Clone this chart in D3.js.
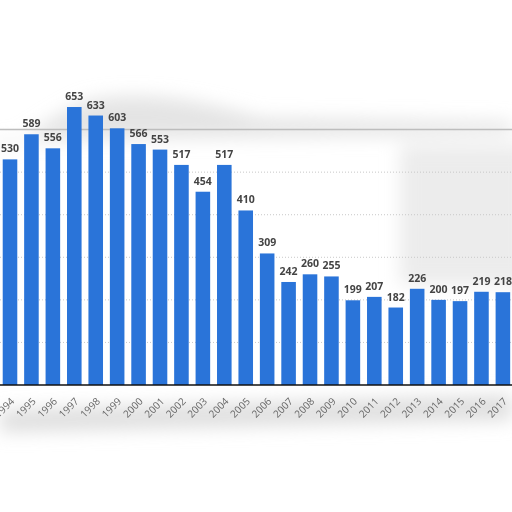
<!DOCTYPE html>
<html>
<head>
<meta charset="utf-8">
<script src="https://cdn.jsdelivr.net/npm/d3@7"></script>
<style>
  body { margin: 0; background: #fff; }
  svg { display: block; }
</style>
</head>
<body>
<div id="chart"></div>
<script>
var svgWidth = 512;
var svgHeight = 512;

// data
var years = ["1994", "1995", "1996", "1997", "1998", "1999", "2000", "2001",
  "2002", "2003", "2004", "2005", "2006", "2007", "2008", "2009",
  "2010", "2011", "2012", "2013", "2014", "2015", "2016", "2017"];
var values = [530, 589, 556, 653, 633, 603, 566, 553,
  517, 454, 517, 410, 309, 242, 260, 255,
  199, 207, 182, 226, 200, 197, 219, 218];
var gridTicks = [100, 200, 300, 400, 500, 600];

var data = years.map(function(y, i) { return { year: y, value: values[i] }; });

var svg = d3.select("#chart")
  .append("svg")
  .attr("width", svgWidth)
  .attr("height", svgHeight);

var defs = svg.append("defs");
defs.append("filter")
  .attr("id", "blur")
  .attr("x", "-30%").attr("y", "-60%")
  .attr("width", "160%").attr("height", "220%")
  .append("feGaussianBlur")
  .attr("stdDeviation", 9);

// scales
var step = 21.43;
var x = d3.scaleBand()
  .domain(years)
  .range([10 - step / 2, 10 - step / 2 + step * years.length])
  .paddingInner(0.32)
  .paddingOuter(0.16);

var y = d3.scaleLinear()
  .domain([0, 700])
  .range([385, 385 - 700 * 0.4257]);

// soft grey smears of the source picture
var smear = svg.append("g").attr("filter", "url(#blur)");
smear.append("path")
  .attr("d", "M0,150 C40,130 60,110 90,100 C140,90 200,100 260,118 L512,122 L512,134 L0,140 Z")
  .attr("fill", "#d8d8d8")
  .attr("opacity", 0.7);
smear.append("rect")
  .attr("x", 400).attr("y", 145)
  .attr("width", 130).attr("height", 140)
  .attr("fill", "#ececec");
smear.append("path")
  .attr("d", "M0,410 L512,395 L512,420 L300,425 L0,432 Z")
  .attr("fill", "#d6d6d6")
  .attr("opacity", 0.8);

// gridlines
svg.append("g")
  .selectAll("line")
  .data(gridTicks)
  .enter()
  .append("line")
  .attr("x1", 0)
  .attr("x2", svgWidth)
  .attr("y1", d => y(d))
  .attr("y2", d => y(d))
  .attr("stroke", d => d === 600 ? "#bdbdbd" : "#c8c8c8")
  .attr("stroke-width", d => d === 600 ? 1.5 : 1)
  .attr("stroke-dasharray", d => d === 600 ? null : "1,2");

// bars
svg.append("g")
  .selectAll("rect")
  .data(data)
  .enter()
  .append("rect")
  .attr("x", d => x(d.year))
  .attr("y", d => y(d.value))
  .attr("width", x.bandwidth())
  .attr("height", d => y(0) - y(d.value))
  .attr("fill", "#2a74d9");

// value labels
svg.append("g")
  .selectAll("text")
  .data(data)
  .enter()
  .append("text")
  .attr("x", d => x(d.year) + x.bandwidth() / 2)
  .attr("y", d => y(d.value) - 7)
  .attr("text-anchor", "middle")
  .attr("font-family", "Open Sans")
  .attr("font-weight", "bold")
  .attr("font-size", "10.5px")
  .attr("fill", "#444")
  .text(d => d.value);

// x axis
var xAxis = svg.append("g")
  .attr("transform", `translate(0, ${y(0)})`)
  .call(d3.axisBottom(x).tickSize(0).tickPadding(0));

xAxis.select(".domain")
  .attr("d", `M0,0H${svgWidth}`)
  .attr("stroke", "#111")
  .attr("stroke-width", 1.5);

xAxis.selectAll(".tick text")
  .attr("font-family", "Open Sans")
  .attr("font-size", "10px")
  .attr("fill", "#666")
  .attr("text-anchor", "end")
  .attr("dy", 0)
  .attr("y", 0)
  .attr("transform", "translate(5, 17) rotate(-45)");
</script>
</body>
</html>
